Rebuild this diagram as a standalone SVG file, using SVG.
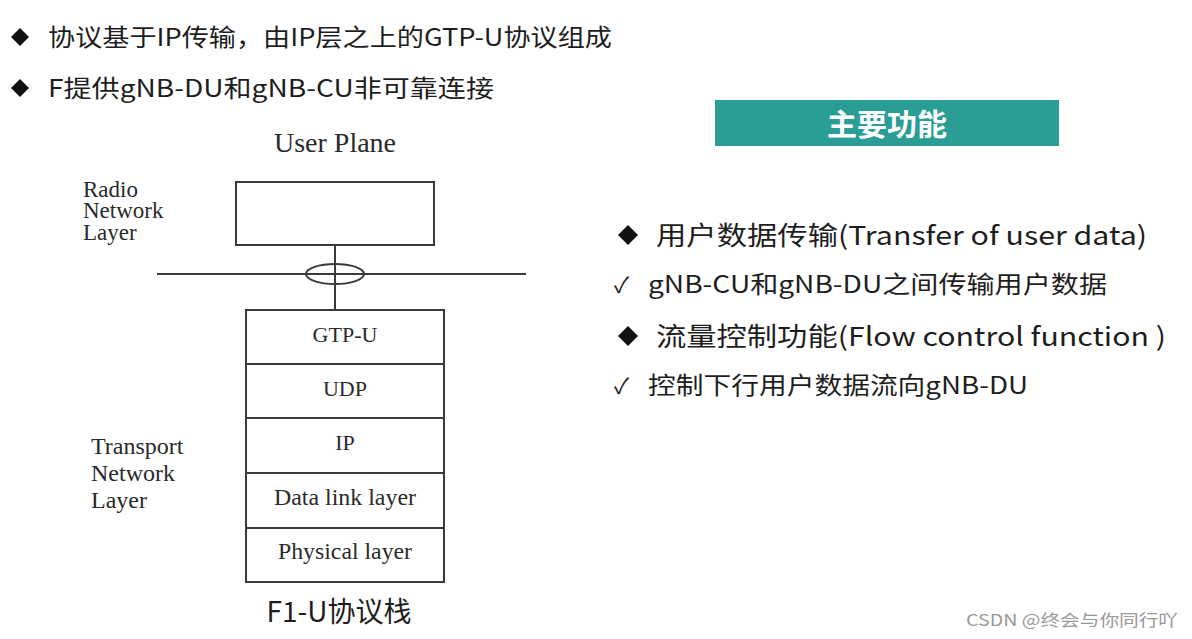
<svg xmlns="http://www.w3.org/2000/svg" width="1192" height="639" viewBox="0 0 1192 639">
<style>
.cn{font-family:"Noto Sans CJK SC","Noto Sans",sans-serif;fill:#1e1e1e}
.sf{font-family:"Liberation Serif","DejaVu Serif",serif;fill:#2a2a2a}
.box{fill:#fff;stroke:#3a3a3a;stroke-width:2}
.ln{stroke:#3a3a3a;stroke-width:2;fill:none}
.dia{fill:#111}
</style>
<rect width="1192" height="639" fill="#fff"/>
<g id="top-bullets">
<polygon class="dia" points="20,28 29,37 20,46 11,37"/>
<text class="cn" x="48" y="46" font-size="24" textLength="564" lengthAdjust="spacingAndGlyphs">协议基于IP传输，由IP层之上的GTP-U协议组成</text>
<polygon class="dia" points="20,79 29,88 20,97 11,88"/>
<text class="cn" x="48" y="97" font-size="24" textLength="446" lengthAdjust="spacingAndGlyphs">F提供gNB-DU和gNB-CU非可靠连接</text>
</g>
<text class="sf" x="335" y="152" font-size="28" text-anchor="middle">User Plane</text>
<g id="radio-label">
<text class="sf" font-size="23"><tspan x="83" y="197">Radio</tspan><tspan x="83" y="218">Network</tspan><tspan x="83" y="240">Layer</tspan></text>
</g>
<g id="transport-label">
<text class="sf" font-size="24"><tspan x="91" y="454">Transport</tspan><tspan x="91" y="481">Network</tspan><tspan x="91" y="508">Layer</tspan></text>
</g>
<g id="connectors">
<line class="ln" x1="335" y1="245" x2="335" y2="310"/>
<line class="ln" x1="157" y1="274" x2="526" y2="274"/>
<ellipse class="ln" cx="335" cy="274" rx="29" ry="10"/>
</g>
<g id="radio-box"><rect class="box" x="236" y="182" width="198" height="63"/></g>
<g id="gtpu"><rect class="box" x="246" y="310" width="198" height="54"/><text class="sf" x="345" y="342" font-size="22" text-anchor="middle">GTP-U</text></g>
<g id="udp"><rect class="box" x="246" y="364" width="198" height="54"/><text class="sf" x="345" y="396" font-size="22" text-anchor="middle">UDP</text></g>
<g id="ip"><rect class="box" x="246" y="418" width="198" height="55"/><text class="sf" x="345" y="450" font-size="22" text-anchor="middle">IP</text></g>
<g id="datalink"><rect class="box" x="246" y="473" width="198" height="55"/><text class="sf" x="345" y="505" font-size="23" text-anchor="middle" textLength="142" lengthAdjust="spacingAndGlyphs">Data link layer</text></g>
<g id="physical"><rect class="box" x="246" y="528" width="198" height="54"/><text class="sf" x="345" y="559" font-size="23" text-anchor="middle" textLength="134" lengthAdjust="spacingAndGlyphs">Physical layer</text></g>
<text class="cn" x="339" y="622" font-size="28" text-anchor="middle">F1-U协议栈</text>
<g id="title">
<rect x="715" y="100" width="344" height="46" fill="#2a9d95"/>
<text x="887" y="135" font-size="30" font-weight="bold" text-anchor="middle" fill="#fff" font-family="Noto Sans CJK SC, sans-serif">主要功能</text>
</g>
<g id="functions">
<polygon class="dia" points="628,225 638,235 628,245 618,235"/>
<text class="cn" x="656" y="245" font-size="26" textLength="491" lengthAdjust="spacingAndGlyphs">用户数据传输(Transfer of user data)</text>
<text class="cn" x="614" y="293" font-size="22">✓</text>
<text class="cn" x="648" y="293" font-size="24" textLength="459" lengthAdjust="spacingAndGlyphs">gNB-CU和gNB-DU之间传输用户数据</text>
<polygon class="dia" points="628,326 638,336 628,346 618,336"/>
<text class="cn" x="656" y="346" font-size="26" textLength="510" lengthAdjust="spacingAndGlyphs">流量控制功能(Flow control function )</text>
<text class="cn" x="614" y="394" font-size="22">✓</text>
<text class="cn" x="648" y="394" font-size="24" textLength="380" lengthAdjust="spacingAndGlyphs">控制下行用户数据流向gNB-DU</text>
</g>
<text x="966" y="626" font-size="16" fill="#999" font-family="Noto Sans CJK SC, sans-serif" textLength="212" lengthAdjust="spacingAndGlyphs">CSDN @终会与你同行吖</text>
</svg>
